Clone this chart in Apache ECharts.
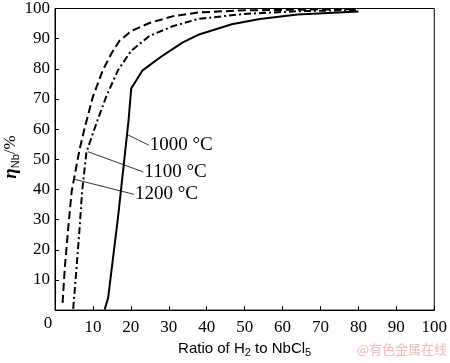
<!DOCTYPE html>
<html>
<head>
<meta charset="utf-8">
<script src="https://cdn.jsdelivr.net/npm/echarts@6/dist/echarts.min.js"></script>
<style>html,body{margin:0;padding:0;background:#fff}#c{width:450px;height:363px}</style>
</head>
<body>
<div id="c"></div>
<script>
// Data (ratio of H2 to NbCl5, eta_Nb %)
const xTicks = [0,10,20,30,40,50,60,70,80,90,100];
const yTicks = [0,10,20,30,40,50,60,70,80,90,100];
const s1000 = [[13.1,0.2],[14,4],[16.6,30.6],[18.3,50.2],[19.4,63],[20.1,73.5],[23.1,79.5],[28.4,84.4],[33.6,88.7],[38,91.4],[46.6,94.8],[54,96.5],[64,98],[80,99]];
const s1100 = [[4.8,0.4],[5.7,14.3],[6.5,27.4],[7.15,39.4],[8.3,52.4],[10.8,61.5],[13.5,70.8],[16.6,79.5],[20.1,86],[24.9,90.9],[31,94.1],[38,96.6],[50,98.2],[64,99.1],[80,99.5]];
const s1200 = [[2.0,2.4],[2.6,14.3],[3.5,27.4],[4.4,39.4],[5.2,44.7],[6.5,53.4],[7.85,60.5],[10,70.8],[12.6,79.5],[14.8,84.9],[17,89.3],[20.1,92.5],[24.9,95.2],[31,97.4],[38,98.7],[50,99.4],[80,99.8]];
const labelNames = ['1000 °C','1100 °C','1200 °C'];
const leader1000 = [[18.9,58.3],[24.7,54.7]];
const leader1100 = [[8.7,52.5],[23.3,45.8]];
const leader1200 = [[5.05,43.4],[20.8,38.4]];

const serif = 'Liberation Serif';
const sans = 'Liberation Sans';

function leader(pts, name){
  return {
    type:'line', data:pts,
    symbol:'none', lineStyle:{color:'#333', width:1}, silent:true, z:3,
    endLabel:{show:true, formatter:name, distance:1, fontFamily:serif, fontSize:19, color:'#000'}
  };
}

const chart = echarts.init(document.getElementById('c'), null, {renderer:'canvas'});
chart.setOption({
  animation:false,
  backgroundColor:'#fff',
  grid:{left:55, right:13, top:7, bottom:49, show:true, borderColor:'#000', borderWidth:1},
  xAxis:{
    type:'value', min:0, max:100, interval:10,
    axisLine:{lineStyle:{color:'#000', width:1}},
    axisTick:{inside:true, length:4, lineStyle:{color:'#000'}},
    splitLine:{show:false},
    axisLabel:{showMinLabel:false, color:'#000', fontFamily:serif, fontSize:17, margin:9},
    name:'Ratio of H{sub|2} to NbCl{sub|5}', nameLocation:'middle', nameGap:26,
    nameTextStyle:{color:'#000', fontFamily:sans, fontSize:15,
      rich:{sub:{fontFamily:sans, fontSize:11, padding:[8,0,0,0], color:'#000'}}}
  },
  yAxis:{
    type:'value', min:0, max:100, interval:10,
    axisLine:{lineStyle:{color:'#000', width:1}},
    axisTick:{inside:true, length:4, lineStyle:{color:'#000'}},
    splitLine:{show:false},
    axisLabel:{showMinLabel:false, color:'#000', fontFamily:serif, fontSize:17, margin:5}
  },
  graphic:[
    {type:'text', x:48, y:324, style:{text:'0', fontFamily:serif, fontSize:17, fill:'#000', align:'center', verticalAlign:'middle'}},
    {type:'text', x:11, y:157, rotation:Math.PI/2,
      style:{text:'{e|η}{s|Nb}{n|/%}', align:'center', verticalAlign:'middle',
        rich:{e:{fontFamily:serif, fontStyle:'italic', fontWeight:'bold', fontSize:19, fill:'#000'},
              s:{fontFamily:sans, fontSize:11, fill:'#000', padding:[9,0,0,0]},
              n:{fontFamily:serif, fontSize:17, fill:'#000'}}}},
    {type:'text', right:3, y:343, style:{text:'@有色金属在线', fontFamily:'Noto Sans CJK SC', fontSize:13, fill:'#f3b9b9'}}
  ],
  series:[
    {type:'line', data:s1000, symbol:'none', lineStyle:{color:'#000', width:2}, z:4},
    {type:'line', data:s1100, symbol:'none', lineStyle:{color:'#000', width:2, type:[7,3,2,3]}, z:4},
    {type:'line', data:s1200, symbol:'none', lineStyle:{color:'#000', width:2, type:[8,4]}, z:4},
    leader(leader1000, labelNames[0]),
    leader(leader1100, labelNames[1]),
    leader(leader1200, labelNames[2])
  ]
});
</script>
</body>
</html>
